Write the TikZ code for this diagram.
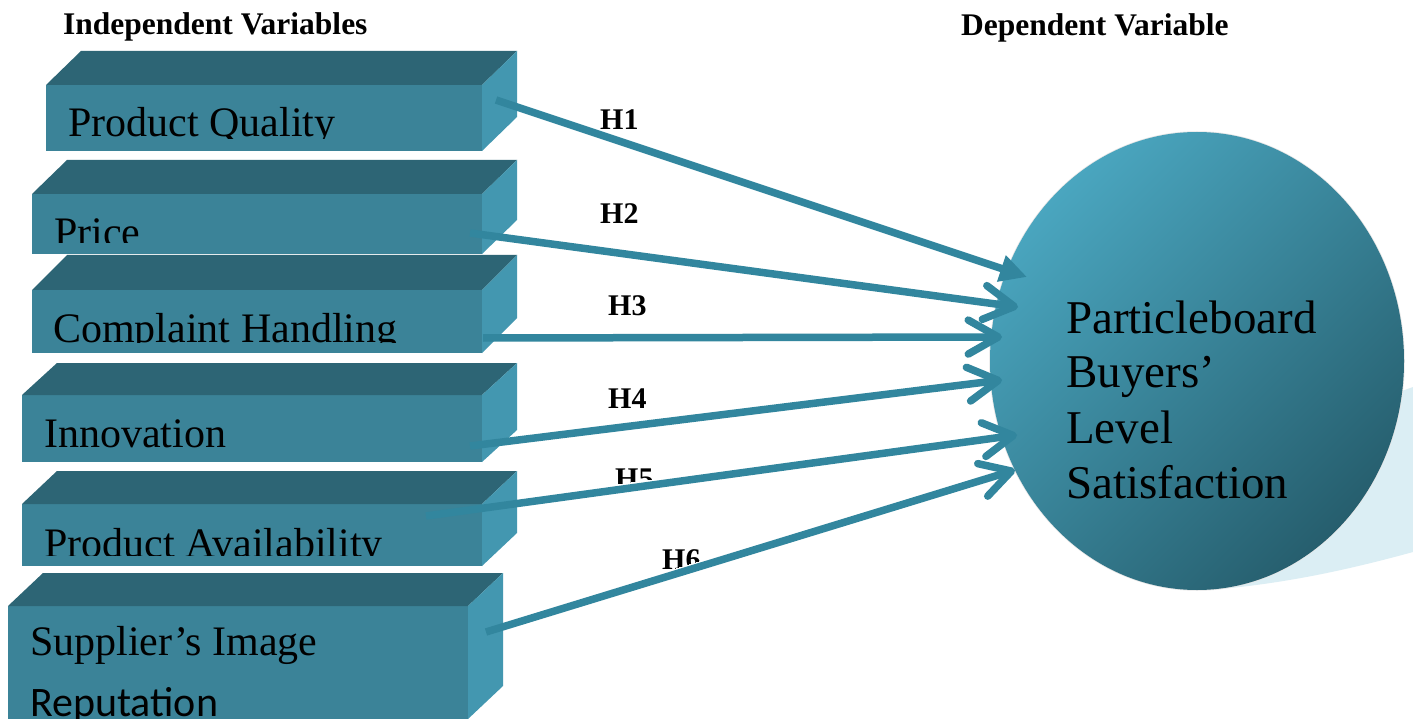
\documentclass[tikz,border=0pt]{standalone}
\usepackage{fontspec}
\setmainfont{Liberation Serif}
\newfontfamily\carlitofont{Carlito}
\usetikzlibrary{calc,shapes.geometric,arrows.meta}
\definecolor{cfront}{HTML}{3B8398}
\definecolor{ctop}{HTML}{2D6575}
\definecolor{cside}{HTML}{4397B0}
\definecolor{carrow}{HTML}{32869E}
\definecolor{cellA}{HTML}{4CAAC4}
\definecolor{cellB}{HTML}{3C8BA2}
\definecolor{cellC}{HTML}{245A69}
\definecolor{cshadow}{HTML}{DBEEF4}
\definecolor{cedge}{HTML}{E6E6E6}
\tikzset{
  frontbox/.style={rectangle, inner sep=0pt, outer sep=0pt, fill=cfront, anchor=north west},
  boxtext/.style={inner sep=0pt, anchor=base west, font=\fontsize{42}{42}\selectfont},
  hlabel/.style={inner sep=0pt, anchor=base west, font=\bfseries\fontsize{30}{30}\selectfont},
  headtext/.style={inner sep=0pt, anchor=base west, font=\bfseries\fontsize{31.5}{32}\selectfont},
  sattext/.style={inner sep=0pt, anchor=base west, font=\fontsize{47}{47}\selectfont},
  conn/.style={draw=carrow, line width=7.5pt},
  vhead/.style={-{Straight Barb[length=30pt,width=34pt,round]}},
  fhead/.style={-{Triangle[length=27pt,width=26pt]}},
}
\newcommand\drawcuboid[7]{%
  \node[frontbox, minimum width={(#4-#2)*1pt}, minimum height={(#5-#3)*1pt}] (#1) at (#2,#3) {};
  \fill[ctop] (#1.north west) -- ++(#6,-#7) -- ($(#1.north east)+(#6,-#7)$) -- (#1.north east) -- cycle;
  \fill[cside] (#1.north east) -- ++(#6,-#7) -- ($(#1.south east)+(#6,-#7)$) -- (#1.south east) -- cycle;
}
\begin{document}
\begin{tikzpicture}[x=1pt,y=-1pt]
\useasboundingbox (0,0) rectangle (1413,719);
\fill[white] (0,0) rectangle (1413,719);

% shadow behind the ellipse
\fill[cshadow] (1380,400) .. controls (1395,393) and (1405,390) .. (1413,387)
  -- (1413,552) .. controls (1340,572) and (1280,584) .. (1210,590) -- (1197,400) -- cycle;

% dependent variable ellipse
\node[ellipse, inner sep=0pt, minimum width=414pt, minimum height=458pt] (sat) at (1197,361) {};
\draw[cedge, line width=1.5pt] (sat.center) ellipse [x radius=207pt, y radius=229pt];
\begin{scope}
  \clip (sat.center) ellipse [x radius=207pt, y radius=229pt];
  \shade[top color=cellA, middle color=cellB, bottom color=cellC, shading angle=45]
    (960,110) rectangle (1434,612);
\end{scope}
\node[sattext] (st1) at (1066,333) {Particleboard};
\node[sattext] (st2) at (1066,387) {Buyers’};
\node[sattext] (st3) at (1066,443) {Level};
\node[sattext] (st4) at (1066,498) {Satisfaction};

% headers
\node[headtext] (hind) at (63,35) {Independent Variables};
\node[headtext] (hdep) at (961,36) {Dependent Variable};

% cuboids
\drawcuboid{b1}{46}{85}{482}{151}{35}{34}
\drawcuboid{b2}{32}{194}{482}{254}{35}{34}
\drawcuboid{b3}{32}{290}{482}{353}{35}{35}
\drawcuboid{b4}{22}{395}{482}{462}{35}{32}
\drawcuboid{b5}{22}{504}{482}{566}{35}{33}
\drawcuboid{b6}{8}{606}{468}{719}{35}{33}

% box texts
\begin{scope}\clip (0,0) rectangle (1413,138.5);
  \node[boxtext] (t1) at (68,137) {Product Quality};
\end{scope}
\begin{scope}\clip (0,0) rectangle (1413,242.5);
  \node[boxtext] (t2) at (54,247) {Price};
\end{scope}
\begin{scope}\clip (0,0) rectangle (1413,342.5);
  \node[boxtext] (t3) at (53,342) {Complaint Handling};
\end{scope}
\node[boxtext] (t4) at (44,447) {Innovation};
\begin{scope}\clip (0,0) rectangle (1413,555.5);
  \node[boxtext] (t5) at (44,557) {Product Availability};
\end{scope}
\node[boxtext] (t6) at (30,655) {Supplier’s Image};
\begin{scope}\clip (0,0) rectangle (1413,719);
  \node[boxtext, font=\carlitofont\fontsize{42}{42}\selectfont] (t6b) at (30,716) {Reputation};
\end{scope}

% hypothesis labels
\node[hlabel] (h1) at (600,130) {H1};
\node[hlabel] (h2) at (600,224) {H2};
\node[hlabel] (h3) at (608,315) {H3};
\node[hlabel] (h4) at (608,408) {H4};
\begin{scope}\clip (560,400) -- (760,400) -- (760,464.2) -- (560,491.6) -- cycle;
  \node[hlabel] (h5) at (615,488) {H5};
\end{scope}
\begin{scope}\clip (560,450) -- (760,450) -- (760,542.1) -- (560,603.4) -- cycle;
  \node[hlabel] (h6) at (662,569) {H6};
\end{scope}

% connectors
\coordinate (s1) at (496,100);  \coordinate (e1) at (1027,277);
\coordinate (s2) at (470,233);  \coordinate (e2) at (1018,307);
\coordinate (s3) at (483,338);  \coordinate (e3) at (1002,337);
\coordinate (s4) at (470,446);  \coordinate (e4) at (1002,380);
\coordinate (s5) at (426,516);  \coordinate (e5) at (1017,435);
\coordinate (s6) at (486,632);  \coordinate (e6) at (1015,470);
\draw[conn, fhead] (s1) -- (e1);
\draw[conn, vhead] (s2) -- (e2);
\draw[conn, vhead] (s3) -- (e3);
\draw[conn, vhead] (s4) -- (e4);
\draw[conn, vhead] (s5) -- (e5);
\draw[conn, vhead] (s6) -- (e6);
\end{tikzpicture}
\end{document}
